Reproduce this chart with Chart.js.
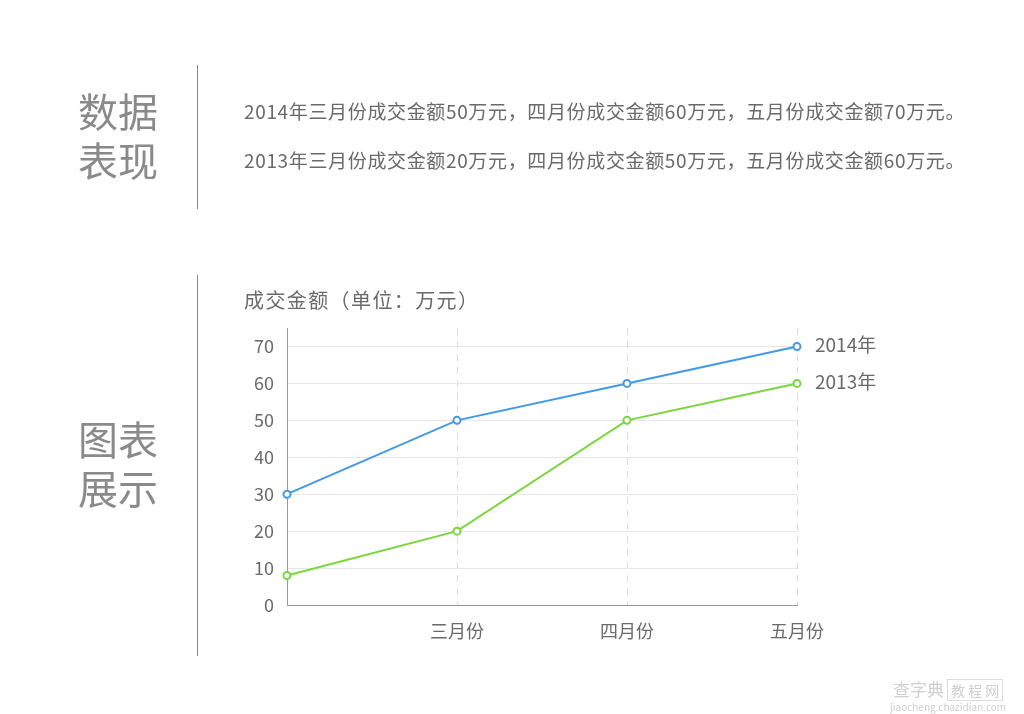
<!DOCTYPE html>
<html>
<head>
<meta charset="utf-8">
<script src="https://cdn.jsdelivr.net/npm/chart.js@4/dist/chart.umd.min.js"></script>
<style>
  html, body { margin: 0; padding: 0; background: #fff; }
  body { width: 1024px; height: 714px; position: relative; overflow: hidden;
         font-family: "Noto Sans CJK SC", "Noto Sans", sans-serif; color: #666; }
  #chart { position: absolute; left: 0; top: 0; }
  .t { position: absolute; white-space: nowrap; line-height: 1; }
  .head { font-size: 40px; color: #8a8a8a; line-height: 49px; left: 78px; }
  .vline { position: absolute; left: 197px; width: 1px; background: #8a8a8a; }
  .txt { font-size: 19px; left: 244px; color: #6a6a6a; letter-spacing: 0.65px; }
  .wm { color: #cfcfcf; }
</style>
</head>
<body>
<canvas id="chart" width="1024" height="714"></canvas>

<div class="t head" style="top:86px">数据<br>表现</div>
<div class="vline" style="top:65px;height:144px"></div>
<div class="t txt" id="line1" style="top:101px"></div>
<div class="t txt" id="line2" style="top:150px"></div>

<div class="t head" style="top:414px">图表<br>展示</div>
<div class="vline" style="top:275px;height:381px"></div>
<div class="t txt" style="top:290px;font-size:20px;letter-spacing:1.4px">成交金额（单位：万元）</div>

<div class="t wm" style="left:893px;top:680px;font-size:17px">查字典<span style="border:1px solid #ddd;padding:0 3px;margin-left:3px;font-size:14px">教 程 网</span></div>
<div class="t wm" style="left:890px;top:702px;font-size:10px">jiaocheng.chazidian.com</div>

<script>
// categories and values
const months = ["", "三月份", "四月份", "五月份"];
const textMonths = ["三月份", "四月份", "五月份"];
const years = ["2014年", "2013年"];
const sales2014 = [30, 50, 60, 70];
const sales2013 = [8, 20, 50, 60];
const yTicks = [0, 10, 20, 30, 40, 50, 60, 70];
const yMax = 75;

const blue = "#4398e8";
const green = "#7bd63d";

// summary sentences at the top
function sentence(year, vals) {
  return year + textMonths.map((m, i) => m + "成交金额" + vals[i + 1] + "万元").join("，") + "。";
}
document.getElementById("line1").innerText = sentence(years[0], sales2014);
document.getElementById("line2").innerText = sentence(years[1], sales2013);

// draw the year label next to the last point of each line
const endLabels = {
  id: "endLabels",
  afterDatasetsDraw(chart) {
    const ctx = chart.ctx;
    ctx.save();
    ctx.font = "19px 'Noto Sans CJK SC', sans-serif";
    ctx.fillStyle = "#6a6a6a";
    ctx.textBaseline = "middle";
    chart.data.datasets.forEach((ds, i) => {
      const pts = chart.getDatasetMeta(i).data;
      const p = pts[pts.length - 1];
      ctx.fillText(ds.label, p.x + 18, p.y - 2);
    });
    ctx.restore();
  }
};

Chart.defaults.font.family = "'Noto Sans CJK SC', 'Noto Sans', sans-serif";
Chart.defaults.color = "#6a6a6a";

const ctx = document.getElementById("chart").getContext("2d");
new Chart(ctx, {
  type: "line",
  data: {
    labels: months,
    datasets: [
      {
        label: years[0],
        data: sales2014,
        borderColor: blue,
        backgroundColor: "#fff",
        pointBorderColor: blue,
        borderWidth: 2,
        pointRadius: 3.5,
        pointBorderWidth: 2,
        tension: 0
      },
      {
        label: years[1],
        data: sales2013,
        borderColor: green,
        backgroundColor: "#fff",
        pointBorderColor: green,
        borderWidth: 2,
        pointRadius: 3.5,
        pointBorderWidth: 2,
        tension: 0
      }
    ]
  },
  options: {
    responsive: false,
    animation: false,
    layout: { padding: { left: 230, top: 328, right: 227, bottom: 59 } },
    plugins: { legend: { display: false }, tooltip: { enabled: false } },
    scales: {
      x: {
        offset: false,
        afterFit: s => { s.height = 50; },
        grid: { color: "#dcdcdc", drawTicks: false, lineWidth: 1 },
        border: { color: "#9a9a9a", dash: [7, 6], width: 1 },
        ticks: { font: { size: 18 }, padding: 15, maxRotation: 0, autoSkip: false }
      },
      y: {
        min: 0,
        max: yMax,
        afterFit: s => { s.width = 57; },
        // axis runs a bit past 70, but ticks stop at 70
        afterBuildTicks: s => { s.ticks = yTicks.map(v => ({ value: v })); },
        grid: { color: "#e6e6e6", drawTicks: false },
        border: { color: "#9a9a9a", width: 1 },
        ticks: {
          autoSkip: false,
          font: { size: 18 },
          padding: 13
        }
      }
    }
  },
  plugins: [endLabels]
});
</script>
</body>
</html>
